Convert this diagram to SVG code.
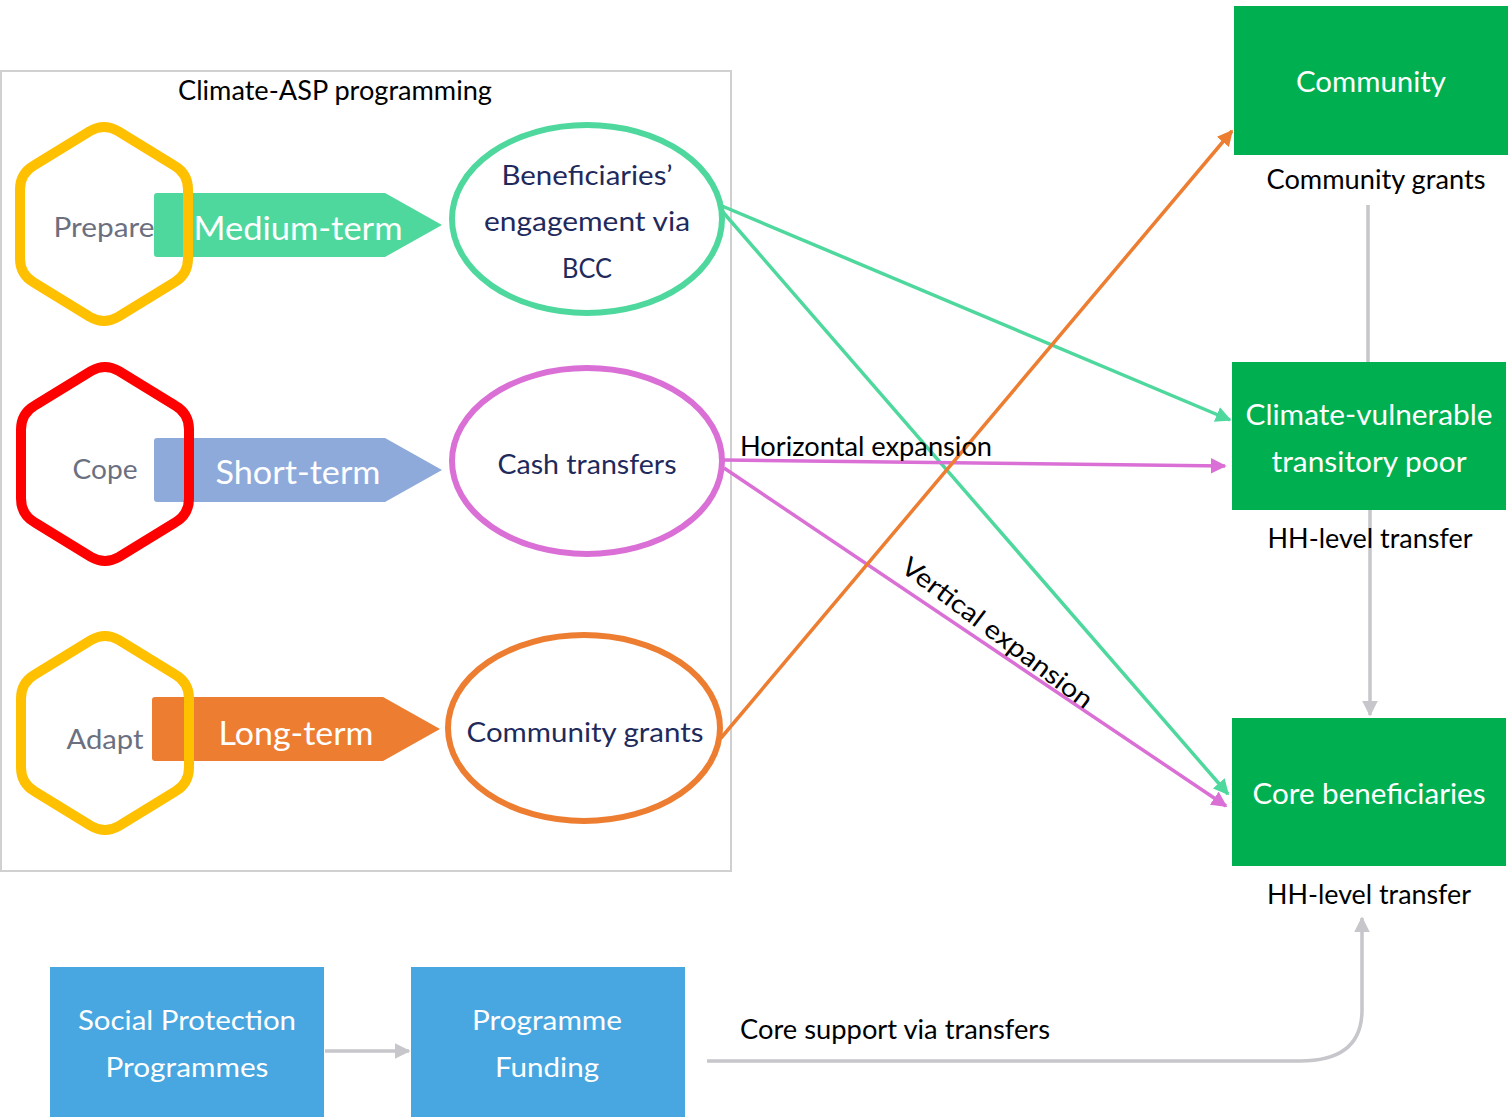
<svg xmlns="http://www.w3.org/2000/svg" width="1512" height="1117" viewBox="0 0 1512 1117">
<style>
text{font-family:Lato,"Liberation Sans",sans-serif;}
.t26{font-size:26px;}
.hex{fill:none;stroke-width:10;stroke-linejoin:round;}
.hexlbl{font-size:26px;fill:#6b7080;text-anchor:middle;}
.term{font-size:33px;fill:#ffffff;text-anchor:middle;}
.ell{fill:#ffffff;stroke-width:6;}
.elltxt{font-size:26px;fill:#1f2a5c;text-anchor:middle;}
.gbox{fill:#00b050;}
.gtxt{font-size:28px;fill:#ffffff;text-anchor:middle;}
.lbl{font-size:26px;fill:#000000;text-anchor:middle;}
.bbox{fill:#48a7e0;}
.btxt{font-size:27px;fill:#ffffff;text-anchor:middle;}
.con{fill:none;stroke-width:3.5;}
</style>
<defs>
<path id="hexshape" d="M13.86,-93 L70.14,-58.5 Q84,-50.5 84,-34.5 L84,34.5 Q84,50.5 70.14,58.5 L13.86,93 Q0,101 -13.86,93 L-70.14,58.5 Q-84,50.5 -84,34.5 L-84,-34.5 Q-84,-50.5 -70.14,-58.5 L-13.86,-93 Q0,-101 13.86,-93 Z"/>
<marker id="aG" viewBox="0 0 10 10" refX="9" refY="5" markerWidth="4.5" markerHeight="4.5" orient="auto" markerUnits="strokeWidth"><path d="M0,0 L10,5 L0,10 z" fill="#4fd89d"/></marker>
<marker id="aP" viewBox="0 0 10 10" refX="9" refY="5" markerWidth="4.5" markerHeight="4.5" orient="auto" markerUnits="strokeWidth"><path d="M0,0 L10,5 L0,10 z" fill="#da70d6"/></marker>
<marker id="aO" viewBox="0 0 10 10" refX="9" refY="5" markerWidth="4.5" markerHeight="4.5" orient="auto" markerUnits="strokeWidth"><path d="M0,0 L10,5 L0,10 z" fill="#ed7d31"/></marker>
<marker id="aGr" viewBox="0 0 10 10" refX="9" refY="5" markerWidth="4.5" markerHeight="4.5" orient="auto" markerUnits="strokeWidth"><path d="M0,0 L10,5 L0,10 z" fill="#c6c6cb"/></marker>
</defs>

<rect id="frame" x="1" y="71" width="730" height="800" fill="none" stroke="#d0d0d0" stroke-width="2"/>
<text id="title" class="t26" x="335" y="100" text-anchor="middle" textLength="314" lengthAdjust="spacingAndGlyphs">Climate-ASP programming</text>

<g id="medium-term">
<path d="M157,193 H385 L442,225 L385,257 H157 Q154,257 154,254 V196 Q154,193 157,193 Z" fill="#4fd89d"/>
<text class="term" x="298" y="240" textLength="209" lengthAdjust="spacingAndGlyphs">Medium-term</text>
</g>
<g id="short-term">
<path d="M157,438 H385 L442,470 L385,502 H157 Q154,502 154,499 V441 Q154,438 157,438 Z" fill="#8eaadb"/>
<text class="term" x="298" y="484" textLength="165" lengthAdjust="spacingAndGlyphs">Short-term</text>
</g>
<g id="long-term">
<path d="M155,697 H383 L440,729 L383,761 H155 Q152,761 152,758 V700 Q152,697 155,697 Z" fill="#ed7d31"/>
<text class="term" x="296" y="745" textLength="155" lengthAdjust="spacingAndGlyphs">Long-term</text>
</g>

<g id="prepare">
<use href="#hexshape" class="hex" stroke="#ffc000" transform="translate(104,224)"/>
<text class="hexlbl" x="104" y="237" textLength="101" lengthAdjust="spacingAndGlyphs">Prepare</text>
</g>
<g id="cope">
<use href="#hexshape" class="hex" stroke="#ff0000" transform="translate(105,464)"/>
<text class="hexlbl" x="105" y="479" textLength="65" lengthAdjust="spacingAndGlyphs">Cope</text>
</g>
<g id="adapt">
<use href="#hexshape" class="hex" stroke="#ffc000" transform="translate(105,733)"/>
<text class="hexlbl" x="105" y="749" textLength="77" lengthAdjust="spacingAndGlyphs">Adapt</text>
</g>

<g id="bcc">
<ellipse class="ell" stroke="#4fd89d" cx="587" cy="219" rx="135" ry="94"/>
<text class="elltxt" x="587" y="185" textLength="171" lengthAdjust="spacingAndGlyphs">Beneficiaries’</text>
<text class="elltxt" x="587" y="231" textLength="206" lengthAdjust="spacingAndGlyphs">engagement via</text>
<text class="elltxt" x="587" y="278" textLength="50" lengthAdjust="spacingAndGlyphs">BCC</text>
</g>
<g id="cash">
<ellipse class="ell" stroke="#da70d6" cx="587" cy="461" rx="135" ry="93"/>
<text class="elltxt" x="587" y="474" textLength="179" lengthAdjust="spacingAndGlyphs">Cash transfers</text>
</g>
<g id="grants">
<ellipse class="ell" stroke="#ed7d31" cx="584" cy="728" rx="136" ry="93"/>
<text class="elltxt" x="585" y="742" textLength="237" lengthAdjust="spacingAndGlyphs">Community grants</text>
</g>

<g id="connectors">
<line class="con" stroke="#c6c6cb" x1="1368" y1="205" x2="1368" y2="362"/>
<line class="con" stroke="#c6c6cb" x1="1370" y1="510" x2="1370" y2="715" marker-end="url(#aGr)"/>
<path class="con" stroke="#c6c6cb" d="M707,1061 H1300 Q1362,1061 1362,1010 V918" marker-end="url(#aGr)"/>
<line class="con" stroke="#c6c6cb" x1="325" y1="1051" x2="409" y2="1051" marker-end="url(#aGr)"/>
<line class="con" stroke="#4fd89d" x1="722" y1="206" x2="1230" y2="420" marker-end="url(#aG)"/>
<line class="con" stroke="#4fd89d" x1="722" y1="211" x2="1228" y2="794" marker-end="url(#aG)"/>
<line class="con" stroke="#da70d6" x1="724" y1="460" x2="1225" y2="466" marker-end="url(#aP)"/>
<line class="con" stroke="#da70d6" x1="724" y1="468" x2="1226" y2="806" marker-end="url(#aP)"/>
<line class="con" stroke="#ed7d31" x1="721" y1="738" x2="1232" y2="131" marker-end="url(#aO)"/>
<text class="t26" x="740" y="456" textLength="252" lengthAdjust="spacingAndGlyphs">Horizontal expansion</text>
<text class="lbl" x="0" y="0" transform="translate(992,640) rotate(37)" textLength="232" lengthAdjust="spacingAndGlyphs">Vertical expansion</text>
<text class="t26" x="740" y="1039" textLength="310" lengthAdjust="spacingAndGlyphs">Core support via transfers</text>
</g>

<g id="community">
<rect class="gbox" x="1234" y="6" width="274" height="149"/>
<text class="gtxt" x="1371" y="92" textLength="150" lengthAdjust="spacingAndGlyphs">Community</text>
<text class="lbl" x="1376" y="189" textLength="219" lengthAdjust="spacingAndGlyphs">Community grants</text>
</g>
<g id="climate-vulnerable">
<rect class="gbox" x="1232" y="362" width="274" height="148"/>
<text class="gtxt" x="1369" y="425" textLength="247" lengthAdjust="spacingAndGlyphs">Climate-vulnerable</text>
<text class="gtxt" x="1369" y="472" textLength="195" lengthAdjust="spacingAndGlyphs">transitory poor</text>
<text class="lbl" x="1370" y="548" textLength="205" lengthAdjust="spacingAndGlyphs">HH-level transfer</text>
</g>
<g id="core">
<rect class="gbox" x="1232" y="718" width="274" height="148"/>
<text class="gtxt" x="1369" y="804" textLength="233" lengthAdjust="spacingAndGlyphs">Core beneficiaries</text>
<text class="lbl" x="1369" y="904" textLength="204" lengthAdjust="spacingAndGlyphs">HH-level transfer</text>
</g>

<g id="spp">
<rect class="bbox" x="50" y="967" width="274" height="150"/>
<text class="btxt" x="187" y="1030" textLength="218" lengthAdjust="spacingAndGlyphs">Social Protection</text>
<text class="btxt" x="187" y="1077" textLength="163" lengthAdjust="spacingAndGlyphs">Programmes</text>
</g>
<g id="funding">
<rect class="bbox" x="411" y="967" width="274" height="150"/>
<text class="btxt" x="547" y="1030" textLength="150" lengthAdjust="spacingAndGlyphs">Programme</text>
<text class="btxt" x="547" y="1077" textLength="104" lengthAdjust="spacingAndGlyphs">Funding</text>
</g>
</svg>
